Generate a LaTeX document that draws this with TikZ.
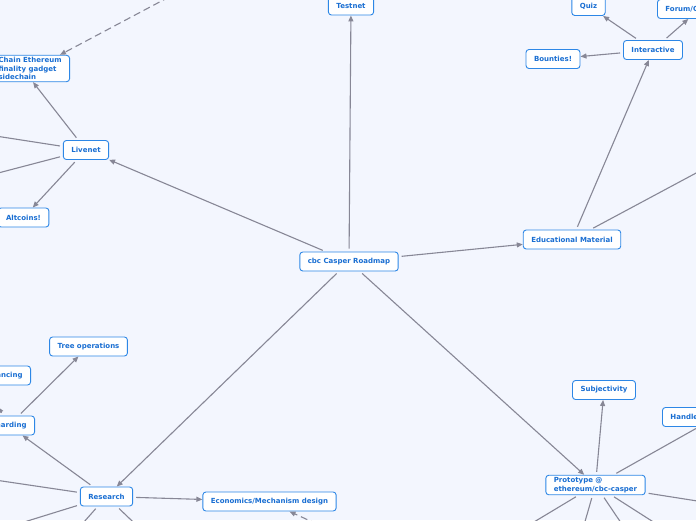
\documentclass[tikz,border=0pt]{standalone}
\usepackage{fontspec}
\setmainfont{DejaVu Sans}
\usetikzlibrary{arrows.meta,calc}
\definecolor{bg}{RGB}{243,246,254}
\definecolor{nodeborder}{RGB}{45,135,230}
\definecolor{nodetext}{RGB}{25,110,210}
\definecolor{edgegray}{RGB}{135,135,150}
\begin{document}
\begin{tikzpicture}[x=1pt,y=-1pt,
  topic/.style={draw=nodeborder, fill=white, rounded corners=3pt, line width=0.9pt,
    text=nodetext, font=\fontsize{7}{9}\selectfont\bfseries,
    inner xsep=8pt, inner ysep=2pt, minimum height=19pt, align=left},
  link/.style={draw=edgegray, line width=1.1pt, shorten <=3pt},
  arr/.style={link, -{Triangle[length=6pt,width=5pt]}},
  dlink/.style={arr, dash pattern=on 7pt off 4pt},
]
\useasboundingbox (0,0) rectangle (696,520);
\fill[bg] (0,0) rectangle (696,520);
\clip (0,0) rectangle (696,520);

% nodes
\node[topic] (root) at (349,261.5) {cbc Casper Roadmap};
\node[topic] (testnet) at (351,5.5) {Testnet};
\node[topic] (livenet) at (86,150) {Livenet};
\node[topic, anchor=east, font=\fontsize{7}{8.5}\selectfont\bfseries] (chain) at (70,68.5) {Chain Ethereum\\finality gadget\\sidechain};
\node[topic] (altcoins) at (23.5,217.5) {Altcoins!};
\node[topic] (edu) at (572,239.5) {Educational Material};
\node[topic] (interactive) at (653,50) {Interactive};
\node[topic] (quiz) at (588.5,6) {Quiz};
\node[topic, anchor=west] (forum) at (657,9) {Forum/Chat};
\node[topic] (bounties) at (553,59) {Bounties!};
\node[topic] (research) at (106.5,496.5) {Research};
\node[topic] (econ) at (269.5,501.5) {Economics/Mechanism design};
\node[topic, anchor=east] (sharding) at (35,425.5) {Sharding};
\node[topic] (tree) at (88.5,346.5) {Tree operations};
\node[topic, anchor=east] (balancing) at (31,375.5) {Load balancing};
\node[topic] (proto) at (595.5,485) {Prototype @\\ethereum/cbc-casper};
\node[topic] (subj) at (604,390) {Subjectivity};
\node[topic, anchor=west] (handle) at (662,417) {Handle};

% off-canvas / helper coordinates
\coordinate (L1) at (-40,130.5);
\coordinate (L2) at (-40,183);
\coordinate (dsrc) at (201,-20);
\coordinate (chaintop) at ($(chain.north east)+(-10,0)$);
\coordinate (chainbot) at ($(chain.south)+(3,0)$);
\coordinate (E1) at (740,149.5);
\coordinate (R1) at (-40,474.8);
\coordinate (R2) at (-34,540);
\coordinate (R3) at (68,540);
\coordinate (R4) at (152,540);
\coordinate (S1) at (-2,407);
\coordinate (esrc) at (330,530);
\coordinate (econin) at ($(econ.south)+(20,0)$);
\coordinate (H1) at (720,415);
\coordinate (P1) at (740,507.7);
\coordinate (P2) at (504,540);
\coordinate (P3) at (579.7,540);
\coordinate (P4) at (632.6,540);
\coordinate (P5) at (681.6,540);

% connectors
\draw[arr] (root) -- (testnet);
\draw[arr] (root) -- (livenet);
\draw[arr] (root) -- (edu);
\draw[arr] (root) -- (research);
\draw[arr] (root) -- (proto);

\draw[arr] (livenet) -- (chainbot);
\draw[arr] (livenet) -- (altcoins);
\draw[link] (livenet) -- (L1);
\draw[link] (livenet) -- (L2);
\draw[dlink] (dsrc) -- (chaintop);

\draw[arr] (edu) -- (interactive);
\draw[link] (edu) -- (E1);
\draw[arr] (interactive) -- (quiz);
\draw[arr] (interactive) -- (forum.south);
\draw[arr] (interactive) -- (bounties);

\draw[arr] (research) -- (econ);
\draw[arr] (research) -- (sharding);
\draw[link] (research) -- (R1);
\draw[link] (research) -- (R2);
\draw[link] (research) -- (R3);
\draw[link] (research) -- (R4);
\draw[arr] (sharding) -- (tree);
\draw[arr] (sharding) -- (S1);
\draw[dlink] (esrc) -- (econin);

\draw[arr] (proto) -- (subj);
\draw[link] (proto) -- (H1);
\draw[link] (proto) -- (P1);
\draw[link] (proto) -- (P2);
\draw[link] (proto) -- (P3);
\draw[link] (proto) -- (P4);
\draw[link] (proto) -- (P5);
\end{tikzpicture}
\end{document}
